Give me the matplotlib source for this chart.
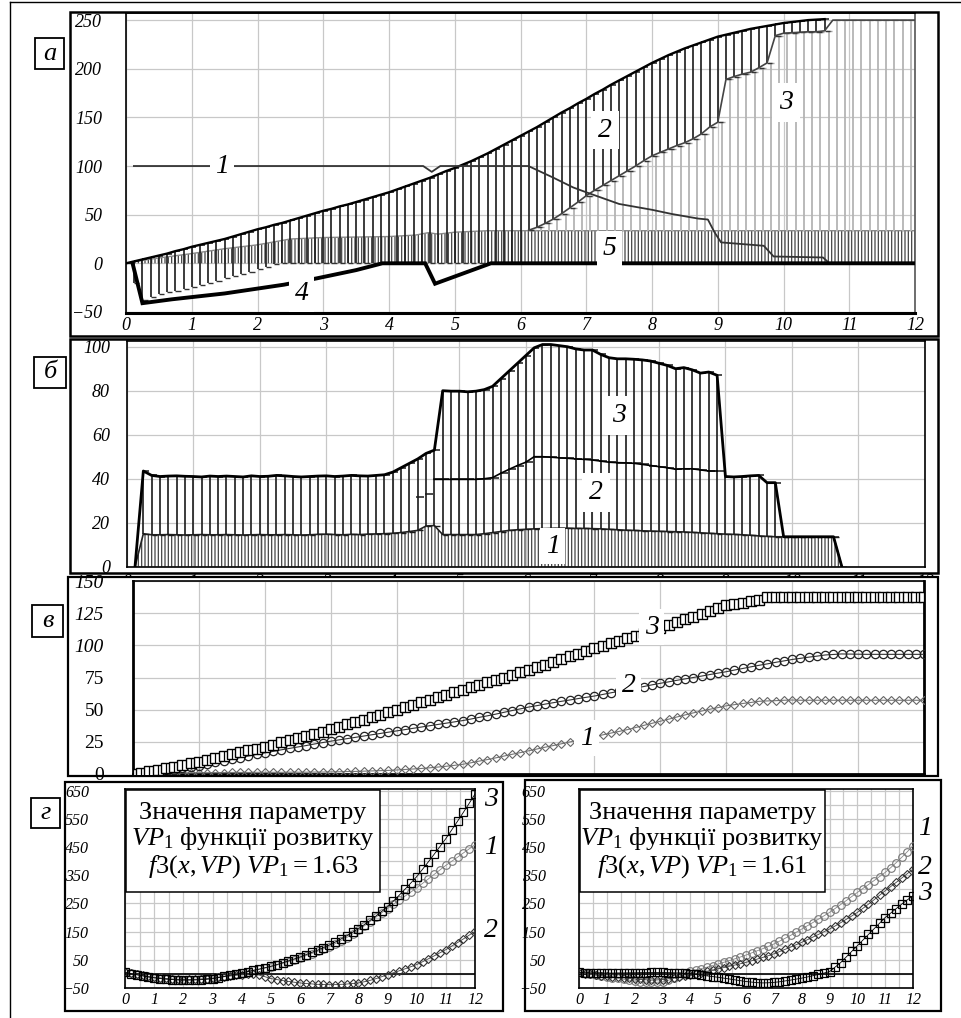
import numpy as np
import matplotlib
matplotlib.use('Agg')
import matplotlib.pyplot as plt
from matplotlib.patches import Rectangle
from matplotlib.lines import Line2D

plt.rcParams['font.family'] = ['Liberation Serif', 'DejaVu Serif']
plt.rcParams['mathtext.fontset'] = 'custom'
plt.rcParams['mathtext.rm'] = 'Liberation Serif'
plt.rcParams['mathtext.it'] = 'Liberation Serif:italic'
plt.rcParams['hatch.linewidth'] = 0.9

# ---------------- panel a (step 0.125) ----------------
a_total = [0, 2, 4, 6, 8, 10, 12.5, 14.5, 17, 19, 21, 23, 25, 27.5, 30, 32.5, 35,
           37, 39.5, 41.5, 44, 46.5, 49, 51.5, 54, 56, 58.5, 60.5, 63, 65.5, 68, 70.5,
           73, 76, 79, 82, 85, 88, 91.5, 95, 98, 101.5, 105, 109, 113, 117.5, 122,
           126.5, 131, 135.5, 140, 145, 150, 155, 159.5, 164.5, 169, 174, 178.5,
           183.5, 188, 192.5, 197, 201.5, 206, 210, 214, 217.5, 221, 224, 227, 230,
           233, 235, 237, 239, 241, 242.5, 244, 245.5, 247, 248, 249, 250, 250.5, 251]
a_low = [0, -20, -38, -35, -32, -30, -28, -26, -24, -22, -20, -18, -15.5, -13.5, -11,
         -8.5, -6, -3.5, -1, 0, 0, 0, 0, 0, 0, 0, 0, 0, 0, 0, 0, 0, 0, 0, 0, 0, 0, 0,
         0, 0, 0, 0, 0, 0, 0, 0, 0, 0, 0]
a_c3 = [34, 37, 41, 45.5, 51, 57, 63, 69.5, 75, 80, 85, 90, 95, 100, 105.5, 110.5,
        114, 117.5, 121, 124, 128, 133, 140, 145, 189, 192, 194.5, 196.5, 201, 206,
        234, 236.5, 237, 237.5, 238, 238, 239, 250, 250, 250, 250, 250, 250, 250, 250,
        250, 250, 250]
a_band_x = [0, 0.25, 0.5, 1.0, 1.5, 2.0, 2.5, 3.0, 3.5, 4.0, 4.4, 4.6, 4.75, 5.0, 5.5, 12.0]
a_band_y = [0, 3, 5.5, 10, 15, 19, 25, 26.5, 27, 27.5, 29, 31.5, 30, 32, 33.5, 33.5]
a_c1_x = [0.12, 4.52, 4.65, 4.78, 6.12, 6.5, 6.8, 7.0, 7.5, 8.0, 8.3, 8.7, 8.85, 8.95,
          9.05, 9.7, 9.85, 10.6, 10.7, 12.0]
a_c1_y = [100, 100, 94, 100, 100, 88, 78, 73, 61, 55, 50.7, 46, 45, 32, 21.5, 18, 7, 6, 0, 0]
a_c4_x = [0.1, 0.25, 0.7, 1.5, 2.4, 2.9, 3.5, 3.9, 4.55, 4.7, 5.55, 12.0]
a_c4_y = [0, -41, -37, -31, -22, -15.5, -7, 0, 0, -21, 0, 0]

# ---------------- panel b (step 0.125, from 0.125) ----------------
b_top = [0, 43.5, 41.5, 41, 41.2, 41.3, 41.1, 41, 40.8, 41.2, 41, 41.2, 41, 40.8, 41.3,
         41, 41.1, 41.5, 41.3, 41, 40.8, 41, 41.2, 41.3, 41, 41.2, 41.5, 41.3, 41.2,
         41.5, 41.8, 43, 45, 47, 49, 51.5, 53, 80, 79.8, 79.8, 79.5, 79.8, 80.5, 82,
         85.5, 89, 92.5, 96, 99.5, 101, 101, 100.5, 100, 99, 98.5, 98.5, 96.5, 95,
         94.5, 94.5, 94.3, 94, 93.5, 92.5, 91.5, 90, 90.5, 89.5, 88, 88.5, 87, 41,
         40.8, 41, 41.3, 41.5, 38.2, 38.2, 13.6, 13.6, 13.6, 13.6, 13.6, 13.6, 13.6, 0]
b_low = [0, 15, 14.5, 14.5, 14.6, 14.5, 14.4, 14.5, 14.6, 14.5, 14.5, 14.6, 14.5, 14.4,
         14.5, 14.6, 14.5, 14.5, 14.6, 14.5, 14.4, 14.5, 14.7, 14.8, 14.6, 14.5, 14.7,
         14.6, 14.8, 14.9, 15, 15.2, 15.5, 16, 16.5, 18.5, 18.7, 14.6, 14.6, 14.6, 14.6,
         14.6, 15, 15.5, 16, 16.5, 16.8, 17, 17.2, 17.3, 17.4, 17.5, 17.5, 17.4, 17.4,
         17.3, 17.2, 17, 16.8, 16.6, 16.5, 16.3, 16.2, 16.1, 16, 15.9, 15.8, 15.6, 15.4,
         15.2, 15, 14.8, 14.7, 14.5, 14.3, 14, 13.8, 13.6, 13.6, 13.6, 13.6, 13.6, 13.6,
         13.6, 13.6, 0]
b_mid = [31.5, 33, 39.7, 39.7, 39.7, 39.7, 39.7, 39.7, 40, 40.5, 42.5, 44.3, 46, 47.5,
         50, 50, 49.8, 49.5, 49.3, 49, 48.8, 48.5, 48, 47.5, 47.3, 47.2, 47, 46.5, 46,
         45.5, 45, 44.3, 44.5, 44.5, 44, 43.5, 43.5]  # from x = 4.375

# ---------------- panel v (step 0.125, 0..12) ----------------
v_c3 = [0.0, 0.9, 2.0, 3.1, 4.3, 5.5, 6.8, 8.2, 9.6, 11.0, 12.4, 13.8, 15.3, 16.8, 18.3,
        19.8, 21.3, 22.9, 24.5, 26.2, 27.9, 29.6, 31.3, 33.0, 34.7, 36.6, 38.5, 40.4,
        42.3, 44.2, 46.0, 47.9, 49.8, 51.7, 53.7, 55.6, 57.6, 59.5, 61.5, 63.4, 65.4,
        67.3, 69.2, 71.2, 73.1, 75.0, 77.0, 78.9, 80.8, 82.9, 85.0, 87.1, 89.2, 91.4,
        93.5, 95.6, 97.7, 99.7, 101.6, 103.6, 105.6, 107.6, 109.5, 111.5, 113.5, 115.7,
        117.9, 120.1, 122.3, 124.4, 126.6, 128.8, 131.0, 132.5, 133.0, 134.5, 135.5,
        137.8, 137.8, 137.9, 137.8, 137.8, 137.9, 137.8, 137.8, 137.9, 137.8, 137.8,
        137.9, 137.8, 137.8, 137.9, 137.8, 137.8, 137.9, 137.8, 137.8]
v_c2 = [0.0, 0.5, 1.1, 1.8, 2.5, 3.4, 4.4, 5.4, 6.5, 7.7, 9.0, 10.2, 11.5, 12.8, 14.0,
        15.3, 16.5, 17.6, 18.8, 19.9, 21.0, 22.1, 23.3, 24.4, 25.5, 26.5, 27.5, 28.5,
        29.5, 30.5, 31.5, 32.5, 33.5, 34.5, 35.5, 36.5, 37.5, 38.5, 39.5, 40.5, 41.5,
        42.7, 44.0, 45.2, 46.5, 47.9, 49.3, 50.6, 52.0, 53.1, 54.3, 55.4, 56.5, 57.5,
        58.6, 59.6, 60.6, 61.8, 63.1, 64.3, 65.5, 66.8, 68.0, 69.3, 70.5, 71.6, 72.8,
        73.9, 75.0, 76.1, 77.3, 78.4, 79.5, 80.8, 82.0, 83.3, 84.5, 85.6, 86.8, 87.9,
        89.0, 89.9, 90.8, 91.6, 92.5, 92.9, 93.3, 93.2, 93.1, 93.0, 93.0, 93.0, 93.0,
        93.0, 93.0, 93.0, 93.0]
v_c1 = [0.0, 0.2, 0.4, 0.5, 0.6, 0.7, 0.8, 0.9, 1.0, 1.0, 1.1, 1.1, 1.2, 1.2, 1.2, 1.3,
        1.3, 1.3, 1.3, 1.4, 1.4, 1.4, 1.5, 1.5, 1.6, 1.7, 1.9, 2.0, 2.2, 2.4, 2.6, 2.8,
        3.1, 3.5, 3.9, 4.3, 4.8, 5.4, 6.0, 6.7, 7.5, 8.7, 10.0, 11.2, 12.5, 13.9, 15.3,
        16.6, 18.0, 19.4, 20.8, 22.1, 23.5, 24.9, 26.3, 27.6, 29.0, 30.4, 31.8, 33.1,
        34.5, 36.1, 37.8, 39.4, 41.0, 42.6, 44.3, 45.9, 47.5, 48.9, 50.3, 51.6, 53.0,
        53.9, 54.8, 55.6, 56.5, 56.8, 57.0, 57.3, 57.5, 57.3, 57.3, 57.3, 57.3, 57.3,
        57.3, 57.3, 57.3, 57.3, 57.3, 57.3, 57.3, 57.3, 57.3, 57.3, 57.3]

# ---------------- panel g (step 0.2, 0..12) ----------------
gl_c3 = [5, 1, -3, -7, -11, -14, -16.5, -18.5, -20, -21.5, -22, -22, -21.5, -20.5, -19,
         -17, -13, -9, -5, -1, 3.5, 8, 12.5, 17, 22, 27, 33, 39.5, 46, 53, 60, 68, 76,
         84, 93, 102, 112.5, 123.5, 135, 147.5, 160, 174.5, 189.5, 205, 221.5, 238, 258,
         279, 300.5, 322.5, 345, 371, 397.5, 424.5, 452, 480, 510.5, 541.5, 573, 605, 638]
gl_c1 = [6, 2, -2, -6, -10, -13, -15.5, -17.5, -19, -20, -20.5, -20.5, -20, -19, -17.5,
         -15.5, -11.5, -7.5, -3.5, 0.5, 4.5, 8.5, 12.5, 16.5, 20.5, 25, 31, 37, 43.5, 50,
         57, 64.5, 72, 80, 88.5, 97, 107, 117.5, 129, 141.5, 155, 170, 185.5, 201, 216.5,
         232, 247, 261.5, 276, 290.5, 305, 321, 337, 353, 369, 385, 399.5, 414, 429,
         443.5, 458]
gl_c2 = [5, 1.5, -2, -5.5, -9, -12, -14, -16, -18, -19, -20, -19.5, -19, -18, -16.5, -15,
         -12.5, -10, -7.5, -5, -3, -1.5, -1, -4, -10, -16.5, -20, -23.5, -26.5, -29.5,
         -32, -34, -35.5, -37, -37.5, -38, -38, -37, -36, -34, -32, -28, -23, -17, -10,
         -2.5, 4, 11, 18, 25.5, 33, 43, 53.5, 64, 75, 86, 98.5, 111, 124, 137.5, 151]
gr_c1 = [5, 2, -1, -4, -7, -10, -13, -16, -19, -22, -25, -27, -29, -30, -29.5, -28, -23,
         -16, -8, 1, 10, 14.5, 19, 24, 29.5, 35, 41, 47, 53.5, 60, 67, 74.5, 82, 89.5,
         97.5, 106, 116, 126, 136.5, 147.5, 159, 170.5, 182, 194, 206, 218, 232, 246,
         260, 274.5, 289, 303, 317, 331, 345.5, 360, 377, 395, 414, 434, 455]
gr_c2 = [3, 1, -1, -3.5, -6, -8, -10, -12, -14, -16, -18, -19.5, -21, -22, -21.5, -20,
         -17, -14, -11, -8, -5, 0, 4.5, 9, 13.5, 18, 22.5, 27, 31.5, 36, 41, 46.5, 52.5,
         58.5, 64.5, 71, 79, 87, 95, 103.5, 112, 121, 130.5, 140, 149.5, 159, 170, 181.5,
         193.5, 205.5, 218, 232.5, 247.5, 263, 279, 295, 310, 325, 340.5, 356, 372]
gr_c3 = [5, 4.5, 4, 3.5, 3, 3, 3, 3.5, 3.5, 4, 4, 4.5, 4.5, 5, 5, 5, 4.5, 4, 3, 1.5, 0,
         -2, -4.5, -7, -9.5, -12, -15, -18, -21, -24, -27, -29, -31, -32, -31.5, -30,
         -28, -25, -22, -18.5, -15, -11, -6.5, -2, 3, 8, 24, 40, 60, 80, 100, 120, 140,
         160, 180, 200, 216, 232, 248, 263, 277]

box_texts = ["Значення параметру\n$VP_1$ функції розвитку\n$f3(x,VP)\\ VP_1 = 1.63$",
             "Значення параметру\n$VP_1$ функції розвитку\n$f3(x,VP)\\ VP_1 = 1.61$"]

W, H = 961, 1018
fig = plt.figure(figsize=(W / 100, H / 100), dpi=100)


def rect(l, t, r, b):
    return [l / W, 1 - b / H, (r - l) / W, (b - t) / H]


def frame(l, t, r, b, lw=1.6, fc=None, z=2):
    fig.add_artist(Rectangle((l / W, 1 - b / H), (r - l) / W, (b - t) / H,
                             transform=fig.transFigure, fill=fc is not None,
                             facecolor=fc if fc else 'none', edgecolor='black',
                             lw=lw, zorder=z))


def letter(l, t, r, b, s):
    frame(l, t, r, b, lw=1.3)
    fig.text((l + r) / 2 / W, 1 - (t + b) / 2 / H, s, fontsize=19, style='italic',
             ha='center', va='center')


def setup(ax, xt, yt, ylim, fs, xpad, ypad, xlim=(0, 12)):
    ax.set_xlim(*xlim)
    ax.set_ylim(*ylim)
    ax.set_xticks(xt, [str(v) for v in xt])
    ax.set_yticks(yt, [str(v).replace('-', '\u2212') for v in yt])
    ax.tick_params(axis='x', length=0, pad=xpad, labelsize=fs)
    ax.tick_params(axis='y', length=0, pad=ypad, labelsize=fs)
    for lab in ax.get_xticklabels() + ax.get_yticklabels():
        lab.set_fontstyle('italic')
    ax.grid(True, color='#c8c8c8', lw=0.9)
    ax.set_axisbelow(True)
    for s in ax.spines.values():
        s.set_color('black')
        s.set_linewidth(1.2)


def tag(ax, x, y, s, fs=20, pad=2):
    ax.text(x, y, s, fontsize=fs, style='italic', ha='center', va='center', zorder=10,
            bbox=dict(facecolor='white', edgecolor='none', pad=pad))


# outer lines
fig.add_artist(Line2D([10 / W, 10 / W], [0, 1 - 2 / H], transform=fig.transFigure, color='k', lw=1))
fig.add_artist(Line2D([10 / W, 1], [1 - 2 / H, 1 - 2 / H], transform=fig.transFigure, color='k', lw=1))

# ======== a ========
a_x = np.arange(len(a_c3) + len(a_low)) * 0.125
axa = fig.add_axes(rect(126, 13, 915, 313.3))
setup(axa, list(range(13)), [-50, 0, 50, 100, 150, 200, 250], (-51.4, 257.3), 13, 3, 17)
axa.spines['bottom'].set_linewidth(2.2)
axa.spines['right'].set_color('#555')
axa.fill_between(a_band_x, 0, a_band_y, facecolor='none', edgecolor='#444',
                 hatch='|||||', lw=0, zorder=2)
axa.plot(a_band_x, a_band_y, color='#888', lw=1, zorder=2)
xg = a_x[len(a_low):] + 0.06
axa.vlines(xg, 33.5, a_c3, colors='#b4b4b4', lw=1.3, zorder=2)
axa.hlines(a_c3, xg - 0.04, xg + 0.05, colors='#a0a0a0', lw=1, zorder=2)
nb = len(a_total)
a_bot = np.array(a_low + a_c3)[:nb]
a_tot = np.array(a_total)
axa.vlines(a_x[:nb], a_bot, a_tot, colors='#1a1a1a', lw=1.2, zorder=3)
axa.hlines(a_tot, a_x[:nb], a_x[:nb] + 0.07, colors='#1a1a1a', lw=1.1, zorder=3)
axa.hlines(a_bot, a_x[:nb], a_x[:nb] + 0.08, colors='#333', lw=1.0, zorder=3)
axa.plot(a_x[:nb], a_tot, color='k', lw=1.7, zorder=4)
axa.plot(a_x[len(a_low):], a_c3, color='#444', lw=1.2, zorder=4)
axa.plot(a_c1_x, a_c1_y, color='#333', lw=1.3, zorder=4)
axa.plot(a_c4_x, a_c4_y, color='k', lw=2.8, zorder=5, solid_joinstyle='miter')
tag(axa, 1.46, 100, '1', pad=4)
tag(axa, 7.28, 137, '2', pad=5)
tag(axa, 10.04, 165, '3', pad=5)
tag(axa, 2.67, -31, '4', pad=4)
tag(axa, 7.36, 15, '5', pad=4)

# ======== b ========
b_x = (np.arange(len(b_top)) + 1) * 0.125
b_top = np.array(b_top)
b_low = np.array(b_low)
axb = fig.add_axes(rect(126.7, 341, 925, 566.7))
axb.set_zorder(0)
setup(axb, list(range(13)), [0, 20, 40, 60, 80, 100], (0, 102.6), 13, 5, 12)
axb.fill_between(b_x, 0, b_low, facecolor='none', edgecolor='#444', hatch='|||||',
                 lw=0, zorder=2)
axb.plot(b_x, b_low, color='#222', lw=1.2, zorder=3)
sel = b_top - b_low > 0.5
axb.vlines(b_x[sel], b_low[sel], b_top[sel], colors='#1a1a1a', lw=1.2, zorder=3)
axb.hlines(b_top, b_x, b_x + 0.08, colors='#1a1a1a', lw=1.1, zorder=3)
axb.hlines(b_low[1:-1], b_x[1:-1], b_x[1:-1] + 0.08, colors='#1a1a1a', lw=1.0, zorder=3)
b2_x = (np.arange(len(b_mid)) + 35) * 0.125
axb.hlines(b_mid, b2_x - 0.02, b2_x + 0.1, colors='#1a1a1a', lw=1.1, zorder=3)
axb.plot(b2_x[2:], b_mid[2:], color='k', lw=1.2, zorder=4)
axb.plot(b_x, b_top, color='k', lw=2.0, zorder=4)
tag(axb, 7.4, 68.6, '3', pad=5)
tag(axb, 7.05, 33.6, '2', pad=5)
tag(axb, 6.4, 9.3, '1', pad=4)

# ======== v ========
frame(68, 577, 938, 776, fc='white', z=0.5)
v_x = np.arange(len(v_c3)) * 0.125
axv = fig.add_axes(rect(133, 581, 924, 774))
axv.set_zorder(1)
axv.patch.set_alpha(0)
setup(axv, list(range(13)), [0, 25, 50, 75, 100, 125, 150], (0, 150), 14, 3, 21)
axv.set_xticklabels([])
for lab in axv.get_yticklabels():
    if lab.get_text() in ('0', '25', '50', '75'):
        lab.set_fontstyle('normal')
axv.spines['left'].set_linewidth(2)
axv.spines['right'].set_linewidth(2)
axv.spines['bottom'].set_linewidth(2)
axv.plot(v_x, v_c1, color='#777', lw=0.8, marker='D', ms=4.5, mfc='none', mec='#666',
         mew=0.8, zorder=3)
axv.plot(v_x, v_c2, color='#333', lw=0.8, marker='o', ms=6, mfc='none', mec='#222',
         mew=0.9, zorder=3)
axv.plot(v_x, v_c3, color='k', lw=0.9, marker='s', ms=6.8, mfc='white', mec='k',
         mew=1.0, zorder=4)
axv.plot(v_x, v_c3, ls='none', marker='|', ms=7, mec='k', mew=0.9, zorder=4)
tag(axv, 7.87, 114, '3', pad=4)
tag(axv, 7.52, 69, '2', pad=4)
tag(axv, 6.88, 27.7, '1', pad=4)

# ======== g ========
g_x = np.arange(len(gl_c3)) * 0.2
g_panels = [
    ((65, 782, 503, 1011), (125, 789, 475, 988), (gl_c1, gl_c2, gl_c3),
     [(1.046, 0.945, '3'), (1.046, 0.704, '1'), (1.046, 0.291, '2')], 0.726, 26),
    ((525, 780, 941, 1011), (579, 789, 913, 988), (gr_c1, gr_c2, gr_c3),
     [(1.036, 0.804, '1'), (1.036, 0.608, '2'), (1.036, 0.477, '3')], 0.733, 24),
]
for k, (fr, pa, curves, labs, bw, ypad) in enumerate(g_panels):
    frame(*fr)
    ax = fig.add_axes(rect(*pa))
    ax.set_zorder(1)
    setup(ax, list(range(13)), [-50, 50, 150, 250, 350, 450, 550, 650], (-50, 656),
          11.5, 3, ypad)
    ax.set_xticks(np.arange(0.5, 12, 1), minor=True)
    ax.set_yticks(np.arange(0, 651, 100), minor=True)
    ax.tick_params(which='minor', length=0)
    ax.grid(True, which='minor', color='#c8c8c8', lw=0.9)
    ax.axhline(0, color='k', lw=1.2, zorder=2)
    c1, c2, c3 = curves
    ax.plot(g_x, c1, color='#888', lw=0.6, marker='o', ms=5.5, mfc='none', mec='#777',
            mew=0.8, zorder=3)
    ax.plot(g_x, c2, color='#444', lw=0.6, marker='D', ms=4.5, mfc='none', mec='#333',
            mew=0.8, zorder=3)
    ax.plot(g_x, c3, color='k', lw=0.6, marker='s', ms=5.5, mfc='none', mec='k',
            mew=0.9, zorder=4)
    ax.add_patch(Rectangle((0.003, 0.482), bw, 0.515, transform=ax.transAxes,
                           facecolor='white', edgecolor='black', lw=1.1, zorder=6))
    ax.text(0.003 + bw / 2, 0.74, box_texts[k], transform=ax.transAxes, fontsize=19,
            ha='center', va='center', linespacing=1.05, zorder=7)
    for lx, ly, s in labs:
        ax.text(lx, ly, s, transform=ax.transAxes, fontsize=20, style='italic',
                ha='center', va='center', clip_on=False, zorder=8)

# frames and letters
frame(70, 12, 938, 336, lw=1.8)
frame(70, 339, 938, 573, lw=1.8)
letter(35, 38, 64, 69, 'а')
letter(34, 357, 66, 388, 'б')
letter(32, 605, 63, 637, 'в')
letter(31, 798, 60, 828, 'г')

fig.savefig('out.png', dpi=100)
